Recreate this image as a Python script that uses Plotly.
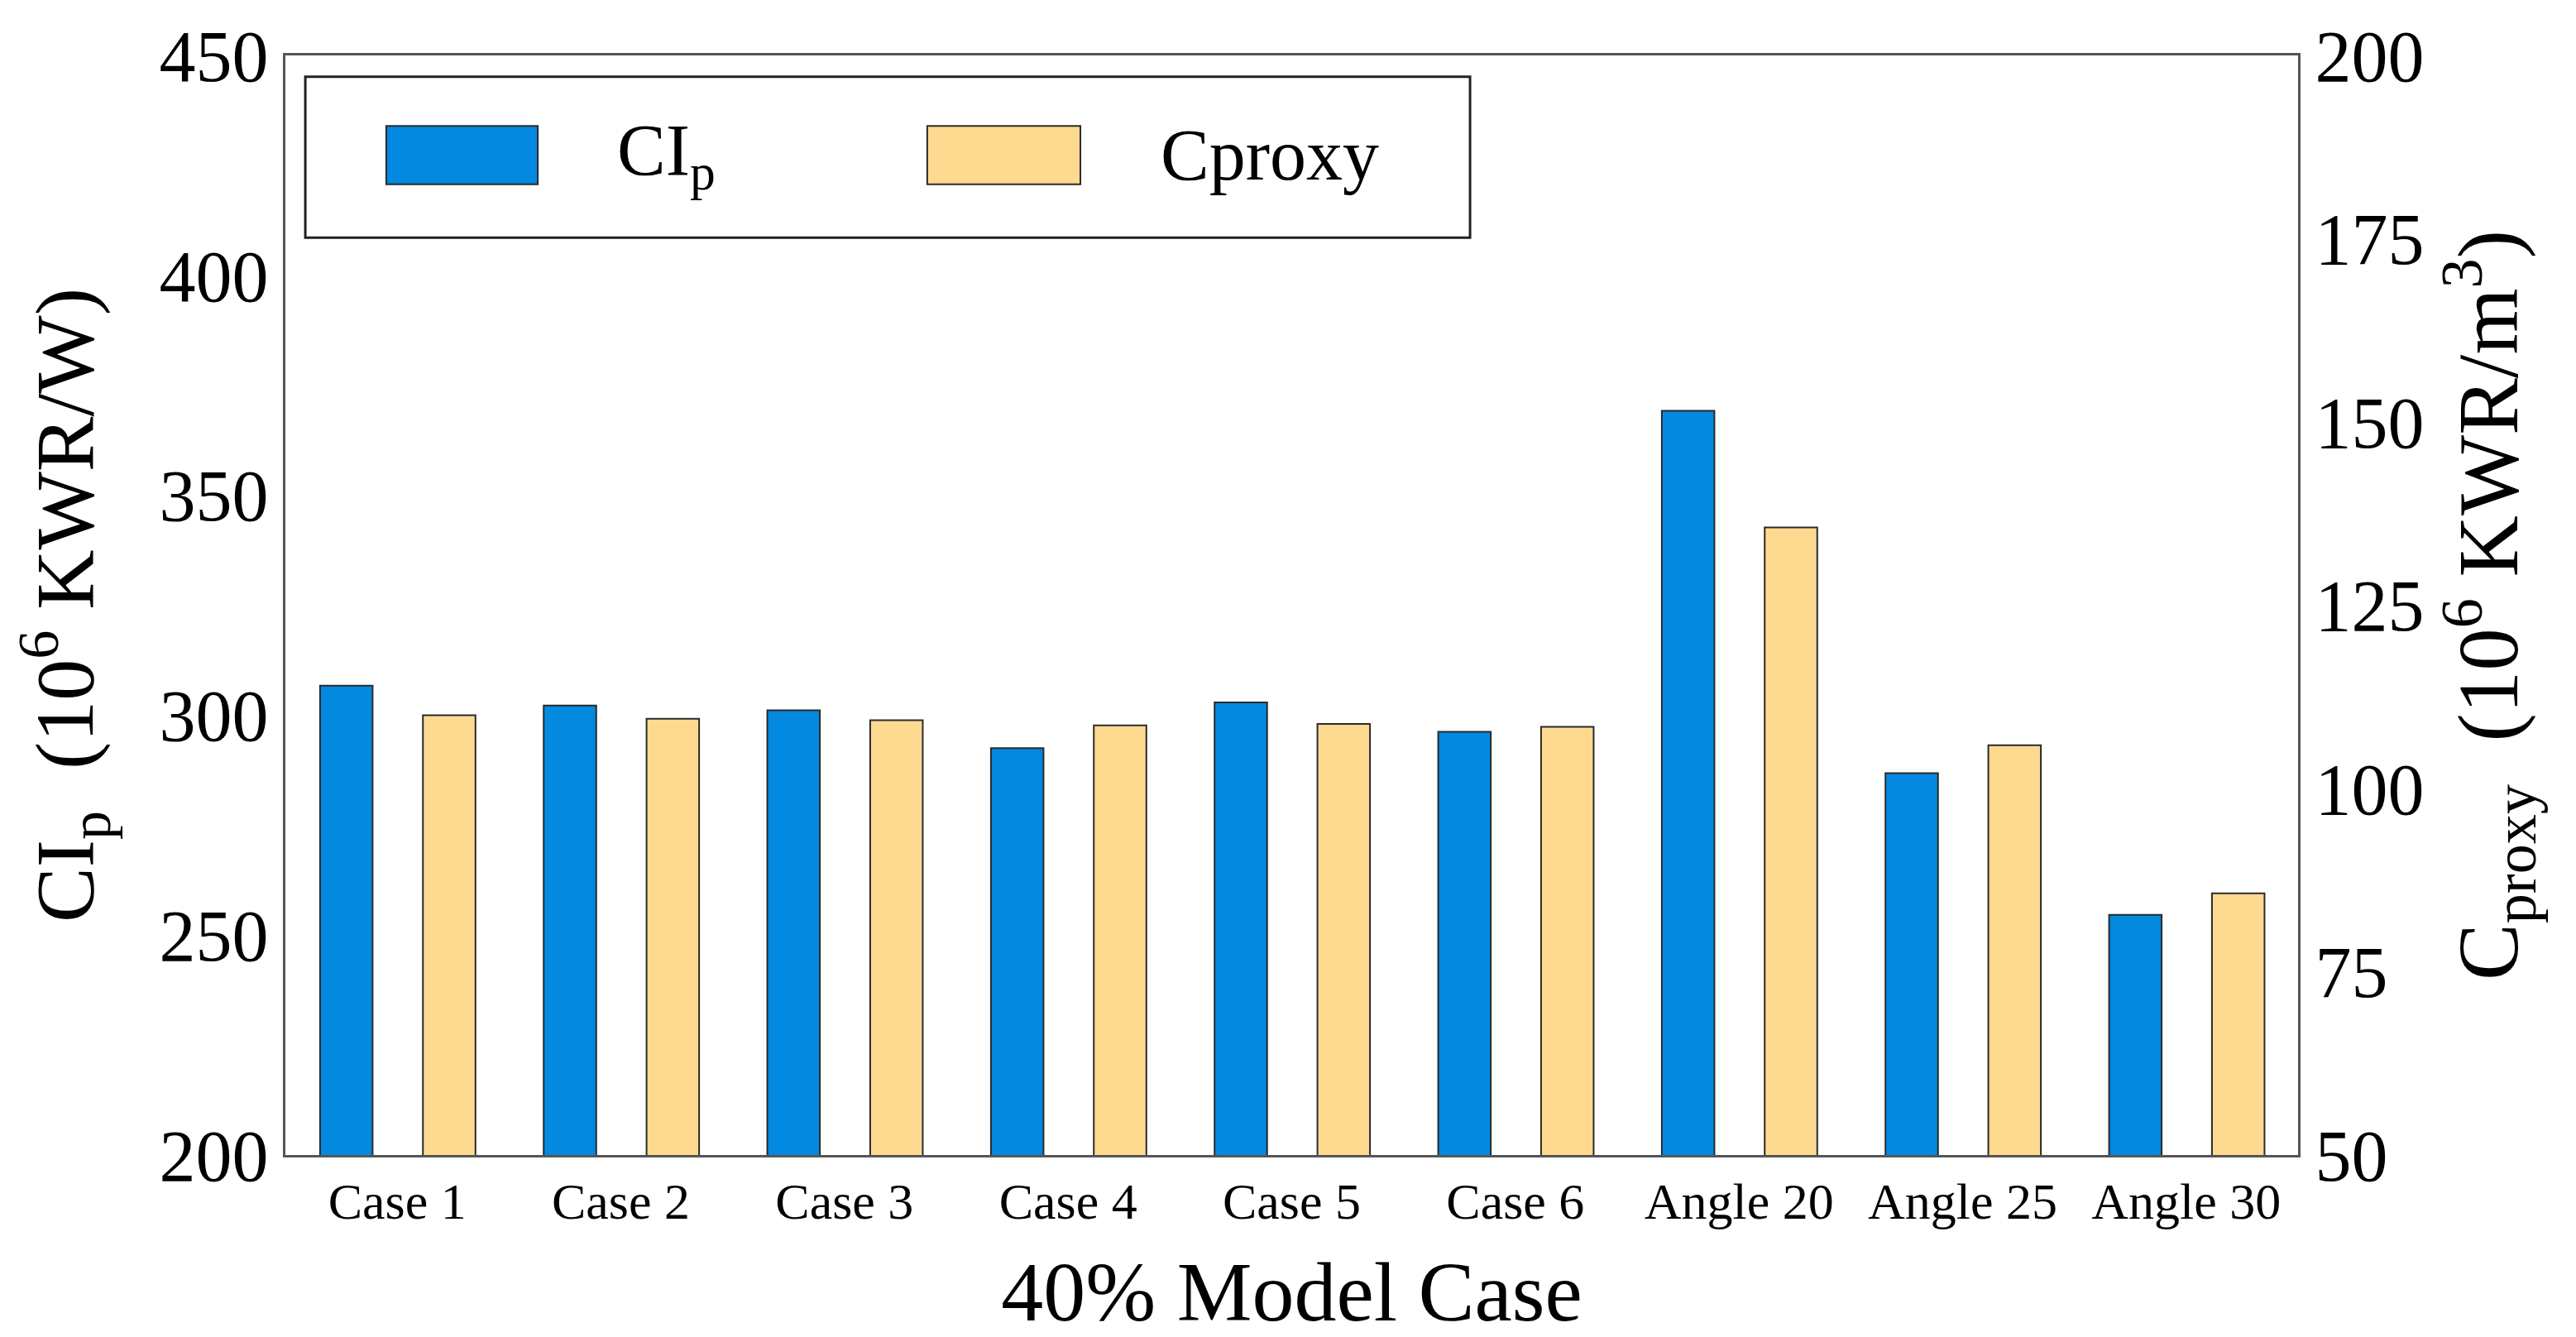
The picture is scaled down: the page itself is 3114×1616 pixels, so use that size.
import plotly.graph_objects as go

categories = ["Case 1", "Case 2", "Case 3", "Case 4", "Case 5", "Case 6",
              "Angle 20", "Angle 25", "Angle 30"]
cip_values = [306.7, 302.2, 301.1, 292.5, 302.9, 296.2, 369.2, 286.8, 254.6]
cproxy_values = [110.0, 109.5, 109.3, 108.6, 108.8, 108.4, 135.6, 105.9, 85.7]
left_ticks = [200, 250, 300, 350, 400, 450]
right_ticks = [50, 75, 100, 125, 150, 175, 200]

FONT = "Times New Roman, Liberation Serif, serif"
BLUE = "#0389E0"
PEACH = "#FEDA91"
EDGE = "#2a2a2a"

fig = go.Figure()
fig.add_trace(go.Bar(
    x=categories, y=cip_values, name="CI<sub>p</sub>",
    marker=dict(color=BLUE, line=dict(color=EDGE, width=2)),
    width=0.235, offset=-0.345, yaxis="y", showlegend=False,
))
fig.add_trace(go.Bar(
    x=categories, y=cproxy_values, name="Cproxy",
    marker=dict(color=PEACH, line=dict(color=EDGE, width=2)),
    width=0.235, offset=0.115, yaxis="y2", showlegend=False,
))

fig.update_layout(
    width=3114, height=1616,
    margin=dict(l=337, r=344, t=48, b=228),
    plot_bgcolor="white", paper_bgcolor="white",
    font=dict(family=FONT, color="black"),
    xaxis=dict(
        range=[-0.5, 8.5], showline=True, mirror=True, linecolor="#555555",
        linewidth=3, ticks="", tickfont=dict(size=62, family=FONT),
        title=dict(text="40% Model Case", font=dict(size=102, family=FONT), standoff=40),
        showgrid=False,
    ),
    yaxis=dict(
        range=[200, 450], tickvals=left_ticks, showline=True, linecolor="#555555",
        linewidth=3, ticks="", tickfont=dict(size=88, family=FONT), showgrid=False,
        zeroline=False,
        title=dict(text="CI<sub>p</sub>  (10<sup>6</sup> KWR/W)",
                   font=dict(size=100, family=FONT), standoff=50),
    ),
    yaxis2=dict(
        range=[50, 200], tickvals=right_ticks, overlaying="y", side="right",
        showline=True, linecolor="#555555", linewidth=3, ticks="",
        tickfont=dict(size=88, family=FONT), showgrid=False, zeroline=False,
        title=dict(text="C<sub>proxy</sub>  (10<sup>6</sup> KWR/m<sup>3</sup>)",
                   font=dict(size=103, family=FONT), standoff=42),
    ),
    showlegend=False,
)

# custom legend box
fig.add_shape(type="rect", xref="paper", yref="paper", x0=0.0099, x1=0.5886,
              y0=0.8343, y1=0.9806, line=dict(color="#222222", width=3),
              fillcolor="white")
fig.add_shape(type="rect", xref="paper", yref="paper", x0=0.0501, x1=0.1254,
              y0=0.8828, y1=0.9358, line=dict(color=EDGE, width=2), fillcolor=BLUE)
fig.add_shape(type="rect", xref="paper", yref="paper", x0=0.3189, x1=0.3950,
              y0=0.8828, y1=0.9358, line=dict(color=EDGE, width=2), fillcolor=PEACH)
fig.add_annotation(xref="paper", yref="paper", x=0.1640, y=0.9093, xanchor="left",
                   yanchor="middle", text="CI<sub>p</sub>", showarrow=False,
                   font=dict(size=88, family=FONT, color="black"))
fig.add_annotation(xref="paper", yref="paper", x=0.4340, y=0.9093, xanchor="left",
                   yanchor="middle", text="Cproxy", showarrow=False,
                   font=dict(size=88, family=FONT, color="black"))

fig.write_html("out.html")
